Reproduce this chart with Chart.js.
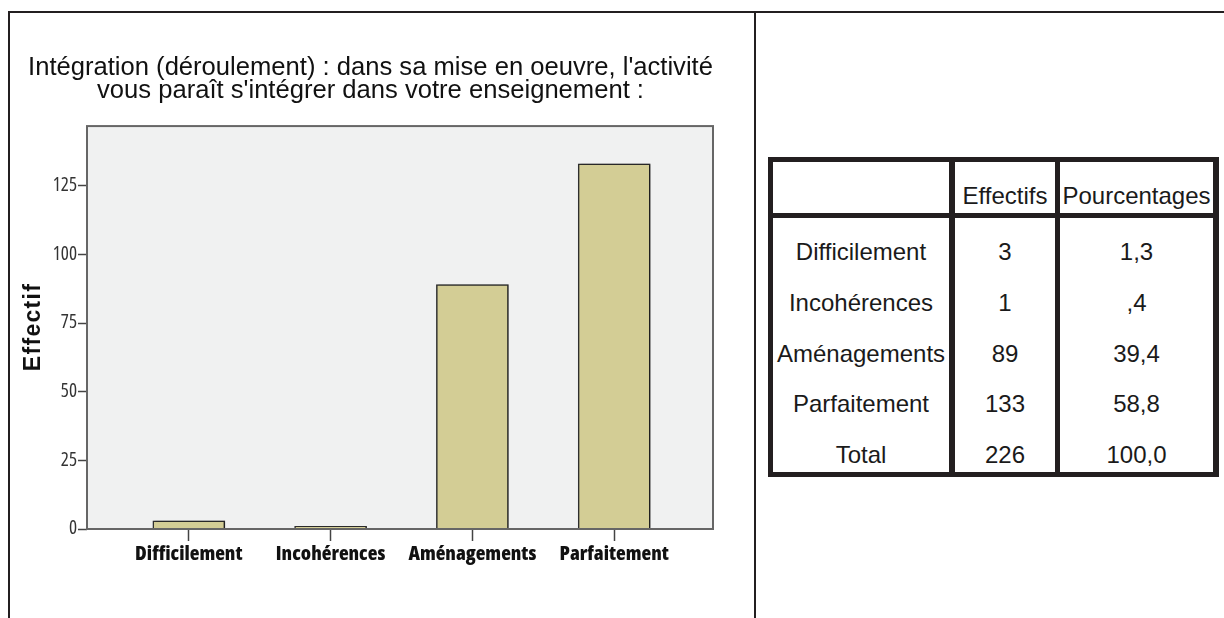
<!DOCTYPE html>
<html lang="fr">
<head>
<meta charset="utf-8">
<title>Intégration (déroulement)</title>
<script src="https://cdn.jsdelivr.net/npm/chart.js@4.4.1/dist/chart.umd.min.js"></script>
<style>
  body {
    margin: 0;
    width: 1224px;
    height: 618px;
    overflow: hidden;
    position: relative;
    background: #fff;
    font-family: "Liberation Sans", Arial, sans-serif;
    color: #1a1a1a;
  }
  #chartBox { position: absolute; left: 0; top: 0; width: 755px; height: 618px; }
  .rule { position: absolute; background: #231f20; }

  /* frequency table on the right */
  #freq {
    position: absolute;
    left: 768px;
    top: 157px;
    border-collapse: separate;
    border-spacing: 0;
    border: 5px solid #231f20;
    border-right-width: 6px;
    table-layout: fixed;
    font-size: 24px;
    text-align: center;
  }
  #freq th, #freq td { box-sizing: border-box; padding: 0; font-weight: normal; }
  #freq th {
    height: 56px;
    vertical-align: bottom;
    padding-bottom: 3px;
    line-height: 28px;
    border-bottom: 5px solid #231f20;
  }
  #freq td {
    height: 50.8px;
    vertical-align: top;
    padding-top: 20px;
    line-height: 28px;
  }
  #freq .c1 { width: 176px; }
  #freq .c2 { width: 106px; border-left: 6px solid #231f20; }
  #freq .c3 { width: 158px; border-left: 5px solid #231f20; }
</style>
</head>
<body>
<div class="rule" style="left:8px; top:11px; width:1216px; height:2px;"></div>
<div class="rule" style="left:8px; top:11px; width:2px; height:607px;"></div>
<div class="rule" style="left:754px; top:11px; width:2px; height:607px;"></div>

<div id="chartBox"><canvas id="barChart" width="755" height="618"></canvas></div>

<table id="freq">
  <thead>
    <tr><th class="c1"></th><th class="c2">Effectifs</th><th class="c3">Pourcentages</th></tr>
  </thead>
  <tbody id="freqBody"></tbody>
</table>

<script>
// Data
const categories = ['Difficilement', 'Incohérences', 'Aménagements', 'Parfaitement'];
const effectifs = [3, 1, 89, 133];
const pourcentages = ['1,3', ',4', '39,4', '58,8'];
const totalLabel = 'Total';
const totalPourcentage = '100,0';
const yTicks = [0, 25, 50, 75, 100, 125];
const yMax = 146.7;

const titleLines = [
  "Intégration (déroulement) : dans sa mise en oeuvre, l'activité",
  "vous paraît s'intégrer dans votre enseignement :"
];
const yTitle = 'Effectif';

const sansFont = '"Liberation Sans", Arial, sans-serif';
const narrowFont = '"Open Sans", "DejaVu Sans", sans-serif';

document.addEventListener('DOMContentLoaded', function() {
  fillTable();
  initBarChart();
});

// Table rows: one per category, then the total
function fillTable() {
  const body = document.getElementById('freqBody');
  const total = effectifs.reduce((a, b) => a + b, 0);
  const rows = categories.map((c, i) => [c, effectifs[i], pourcentages[i]]);
  rows.push([totalLabel, total, totalPourcentage]);

  rows.forEach(r => {
    const tr = document.createElement('tr');
    r.forEach((val, j) => {
      const td = document.createElement('td');
      td.className = 'c' + (j + 1);
      td.textContent = val;
      tr.appendChild(td);
    });
    body.appendChild(tr);
  });
}

// Grey plot background, frame, bar shadow and the rotated axis title
const plotFrame = {
  id: 'plotFrame',
  beforeDraw(chart) {
    const { ctx, chartArea: a } = chart;
    ctx.save();
    ctx.fillStyle = '#f0f1f1';
    ctx.fillRect(a.left, a.top, a.right - a.left, a.bottom - a.top);
    ctx.restore();
  },
  beforeDatasetDraw(chart) {
    const ctx = chart.ctx;
    ctx.save();
    ctx.shadowColor = 'rgba(0, 0, 0, 0.35)';
    ctx.shadowBlur = 2;
    ctx.shadowOffsetX = 2;
    ctx.shadowOffsetY = 0;
  },
  afterDatasetDraw(chart) {
    chart.ctx.restore();
  },
  afterDraw(chart) {
    const { ctx, chartArea: a } = chart;
    ctx.save();
    ctx.strokeStyle = '#666';
    ctx.lineWidth = 2;
    ctx.strokeRect(a.left, a.top, a.right - a.left, a.bottom - a.top);

    ctx.translate(34, 327);
    ctx.rotate(-Math.PI / 2);
    ctx.font = 'bold 23px ' + sansFont;
    ctx.letterSpacing = '1.3px';
    ctx.fillStyle = '#111';
    ctx.textAlign = 'center';
    ctx.textBaseline = 'middle';
    ctx.fillText(yTitle, 0, 0);
    ctx.restore();
  }
};

function initBarChart() {
  const ctx = document.getElementById('barChart');
  if (!ctx) return;

  new Chart(ctx, {
    type: 'bar',
    data: {
      datasets: [{
        label: yTitle,
        data: effectifs.map((v, i) => ({ x: i, y: v })),
        backgroundColor: '#d3cd95',
        borderColor: '#2e2e2e',
        borderWidth: 1.5,
        barThickness: 72
      }]
    },
    options: {
      responsive: false,
      animation: false,
      devicePixelRatio: 1,
      layout: { padding: { left: 28, right: 42, top: 0, bottom: 0 } },
      plugins: {
        legend: { display: false },
        tooltip: { enabled: false },
        title: {
          display: true,
          text: titleLines,
          color: '#111',
          font: { family: sansFont, size: 25.6, weight: 'normal', lineHeight: 0.9 },
          padding: { top: 56, bottom: 24 }
        }
      },
      scales: {
        x: {
          type: 'linear',
          offset: false,
          min: -0.718,
          max: 3.697,
          afterBuildTicks: s => { s.ticks = categories.map((c, i) => ({ value: i })); },
          afterFit: s => { s.height = 89; },
          ticks: {
            callback: v => categories[v],
            autoSkip: false,
            maxRotation: 0,
            color: '#111',
            padding: 1,
            font: { family: narrowFont, size: 20, weight: 'condensed 800' }
          },
          grid: { offset: false, drawOnChartArea: false, tickLength: 12, tickWidth: 1.5, tickColor: '#444' },
          border: { display: false }
        },
        y: {
          min: 0,
          max: yMax,
          afterBuildTicks: s => { s.ticks = yTicks.map(v => ({ value: v })); },
          afterFit: s => { s.width = 59; },
          ticks: {
            color: '#333',
            padding: 1,
            font: { family: narrowFont, size: 19, weight: 'semi-condensed normal' }
          },
          grid: { drawOnChartArea: false, tickLength: 9, tickWidth: 1.5, tickColor: '#444' },
          border: { display: false }
        }
      }
    },
    plugins: [plotFrame]
  });
}
</script>
</body>
</html>
